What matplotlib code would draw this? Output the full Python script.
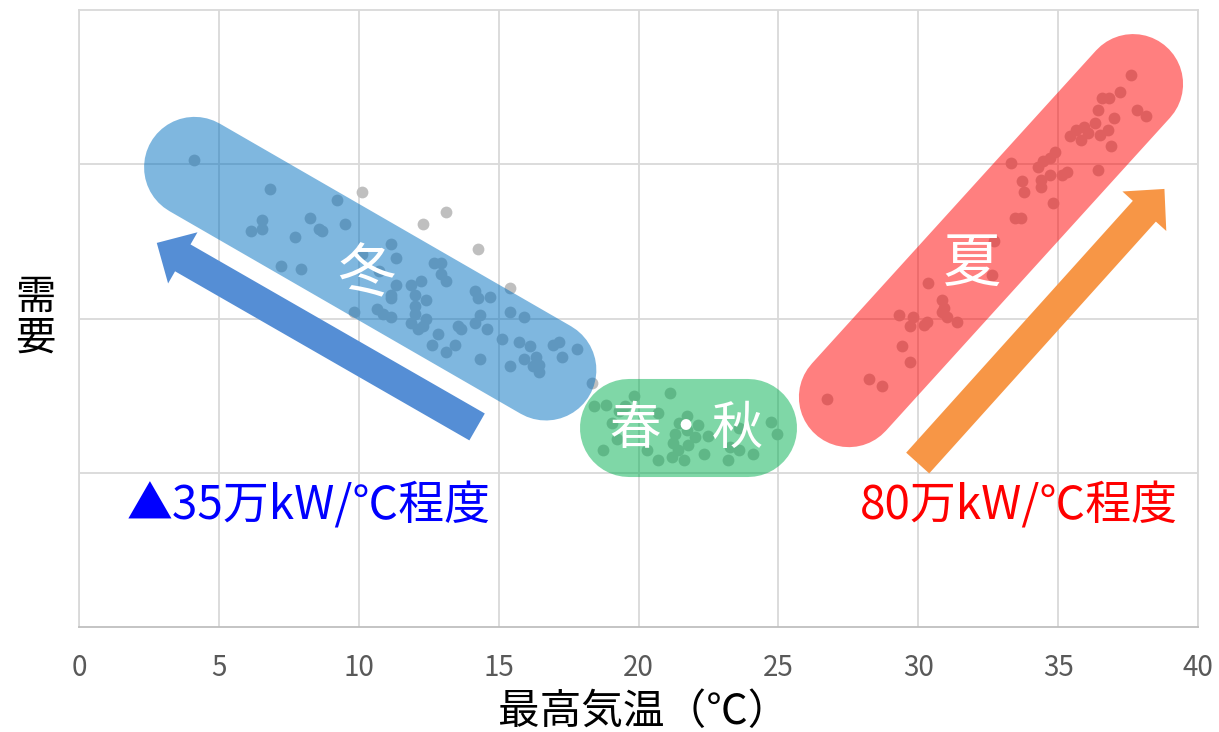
import matplotlib
matplotlib.use("Agg")
import matplotlib.pyplot as plt
from matplotlib.patches import FancyArrow
from matplotlib.transforms import IdentityTransform

plt.rcParams['font.family'] = ['Noto Sans CJK JP', 'DejaVu Sans']

# ---- data ----
winter_x = [4.12, 6.83, 9.21, 10.13, 6.53, 6.16, 6.53, 8.25, 8.57, 8.70, 9.52, 7.73,
            12.31, 13.13, 14.25, 11.14, 10.13, 11.34, 7.23, 7.95, 10.71, 12.70, 12.93,
            12.93, 13.13, 11.34, 11.86, 12.21, 12.01, 12.41, 11.14, 11.14, 15.41, 14.14,
            14.25, 14.70, 12.01, 12.01, 9.83, 10.64, 10.88, 11.14, 12.41, 12.31, 11.86,
            12.12, 12.82, 12.62, 13.13, 13.43, 13.54, 13.66, 14.14, 14.35, 14.60, 15.41,
            15.92, 15.11, 15.72, 16.12, 16.93, 17.16, 17.81, 14.35, 15.41, 15.92, 16.33,
            16.22, 16.43, 16.43, 17.25, 18.33]
winter_y = [3.03, 2.84, 2.77, 2.82, 2.64, 2.57, 2.58, 2.65, 2.58, 2.57, 2.61, 2.53,
            2.61, 2.69, 2.45, 2.48, 2.42, 2.39, 2.34, 2.32, 2.31, 2.36, 2.36,
            2.29, 2.24, 2.22, 2.22, 2.24, 2.15, 2.12, 2.15, 2.13, 2.20, 2.18,
            2.13, 2.14, 2.08, 2.03, 2.04, 2.06, 2.03, 2.01, 2.00, 1.95, 1.97,
            1.93, 1.90, 1.83, 1.78, 1.83, 1.95, 1.93, 1.97, 2.02, 1.93, 2.04,
            2.01, 1.87, 1.85, 1.82, 1.83, 1.85, 1.80, 1.74, 1.69, 1.74, 1.75,
            1.69, 1.70, 1.65, 1.75, 1.58]

mid_x = [18.42, 18.83, 19.52, 19.85, 21.13, 19.30, 20.71, 21.72, 19.04, 21.45, 22.14,
         21.72, 21.30, 19.23, 22.02, 22.50, 23.58, 24.74, 24.95, 21.24, 21.42, 21.78,
         20.31, 18.72, 21.19, 20.71, 21.64, 22.34, 23.27, 23.21, 23.60, 24.10]
mid_y = [1.43, 1.44, 1.43, 1.50, 1.52, 1.40, 1.39, 1.37, 1.32, 1.32, 1.31,
         1.28, 1.25, 1.22, 1.23, 1.24, 1.29, 1.33, 1.25, 1.19, 1.15, 1.18,
         1.15, 1.15, 1.10, 1.08, 1.08, 1.12, 1.17, 1.08, 1.15, 1.12]

summer_x = [26.73, 28.24, 28.70, 29.42, 29.72, 29.31, 29.82, 29.72, 30.21, 30.32, 30.34,
            30.84, 30.92, 30.86, 31.02, 31.40, 32.64, 32.72, 33.47, 33.66, 34.81, 33.79,
            33.70, 34.40, 34.39, 34.71, 35.13, 35.32, 33.33, 34.29, 34.47, 34.71, 34.90,
            36.44, 35.41, 35.64, 35.82, 35.92, 36.08, 36.32, 36.50, 36.77, 36.89, 37.00,
            36.44, 36.57, 36.83, 37.20, 37.61, 37.81, 38.13]
summer_y = [1.48, 1.61, 1.56, 1.82, 1.72, 2.02, 2.01, 1.95, 1.96, 1.98, 2.23,
            2.12, 2.07, 2.04, 2.01, 1.98, 2.28, 2.50, 2.65, 2.65, 2.75, 2.82,
            2.89, 2.85, 2.90, 2.93, 2.93, 2.95, 3.01, 2.98, 3.02, 3.04, 3.08,
            2.96, 3.18, 3.22, 3.16, 3.24, 3.20, 3.27, 3.19, 3.22, 3.12, 3.30,
            3.35, 3.43, 3.43, 3.47, 3.58, 3.35, 3.31]

x_ticks = [0, 5, 10, 15, 20, 25, 30, 35, 40]
x_label = "最高気温（℃）"
y_label = "需\n要"

# season bands: (start, end) in data units, and labels
band_winter = [(4.13, 2.98), (16.69, 1.666)]
band_mid = [(19.66, 1.29), (23.91, 1.29)]
band_summer = [(27.52, 1.49), (37.68, 3.52)]
label_winter = ("冬", 10.26, 2.28)
label_mid = ("春・秋", 21.72, 1.28)
label_summer = ("夏", 31.94, 2.35)

# trend arrows (tail -> tip) and annotation texts
arrow_winter = [(14.23, 1.297), (2.78, 2.49)]
arrow_summer = [(29.98, 1.063), (38.80, 2.84)]
note_winter = ("▲35万kW/℃程度", 1.71, 0.78)
note_summer = ("80万kW/℃程度", 27.92, 0.78)

# ---- figure ----
fig = plt.figure(figsize=(12.19, 7.32), dpi=100)
ax = fig.add_axes([79 / 1219, 1 - 627 / 732, (1198 - 79) / 1219, (627 - 10) / 732])
ax.set_xlim(0, 40)
ax.set_ylim(0, 4)
ax.set_xticks(x_ticks)
ax.set_yticks([1, 2, 3])
ax.set_yticklabels([])
ax.tick_params(axis='y', length=0)
ax.tick_params(axis='x', length=0, pad=19, labelsize=20, labelcolor='#595959')
ax.grid(True, color='#d9d9d9', lw=1.3, zorder=0)
ax.set_axisbelow(True)
for side in ['left', 'right', 'top']:
    ax.spines[side].set_color('#d9d9d9')
    ax.spines[side].set_linewidth(1.3)
ax.spines['bottom'].set_color('#bfbfbf')
ax.spines['bottom'].set_linewidth(1.3)

dot_kw = dict(s=72, color='#bfbfbf', lw=0, zorder=2)
ax.scatter(winter_x, winter_y, **dot_kw)
ax.scatter(mid_x, mid_y, **dot_kw)
ax.scatter(summer_x, summer_y, **dot_kw)

for band, col, lw in [(band_winter, '#0070C0', 72.7),
                      (band_mid, '#00B050', 70.6),
                      (band_summer, '#FF0000', 72.0)]:
    ax.plot([band[0][0], band[1][0]], [band[0][1], band[1][1]], color=col, alpha=0.5,
            lw=lw, solid_capstyle='round', zorder=3)

for (txt, tx, ty), fs in [(label_winter, 42), (label_mid, 37), (label_summer, 42)]:
    ax.text(tx, ty, txt, color='white', fontsize=fs, ha='center', va='center', zorder=5)

for (tail, tip), col in [(arrow_winter, '#558ED5'), (arrow_summer, '#F79646')]:
    p0 = ax.transData.transform(tail)
    p1 = ax.transData.transform(tip)
    arr = FancyArrow(p0[0], p0[1], p1[0] - p0[0], p1[1] - p0[1], width=31,
                     head_width=59, head_length=30, length_includes_head=True,
                     color=col, lw=0, transform=IdentityTransform(), zorder=4)
    fig.add_artist(arr)

for (txt, tx, ty), col in [(note_winter, 'blue'), (note_summer, 'red')]:
    ax.text(tx, ty, txt, color=col, fontsize=33, ha='left', va='center', zorder=5)

fig.text(644 / 1219, 1 - 712 / 732, x_label, fontsize=30, ha='center', va='center', color='black')
fig.text(35 / 1219, 1 - 318 / 732, y_label, fontsize=29, ha='center', va='center',
         color='black', linespacing=1.0)

fig.savefig("out.png", dpi=100)
